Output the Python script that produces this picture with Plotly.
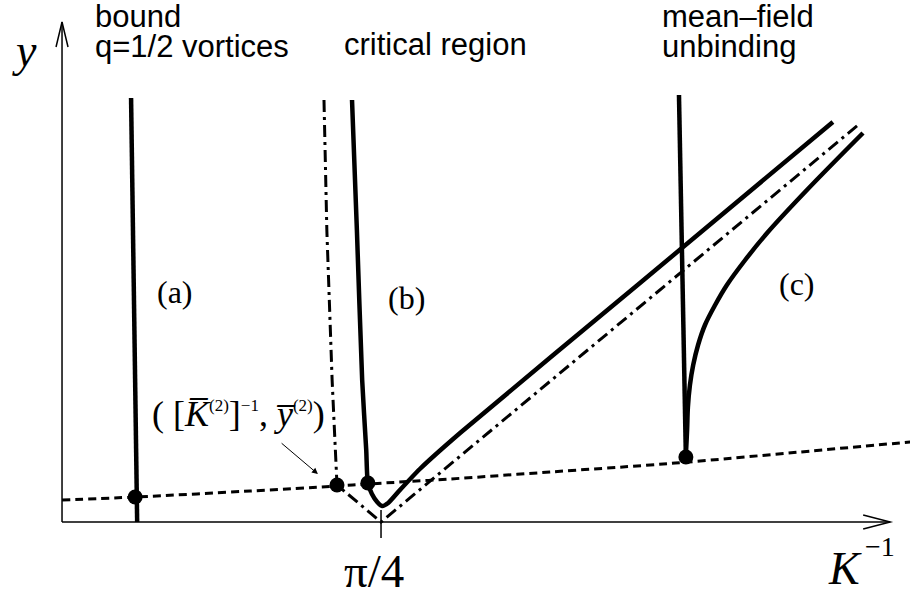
import math
import plotly.graph_objects as go

# ---- schematic flow curves in the (K^-1, y) plane ----
PI4 = math.pi / 4

# dotted fixed-point line y*(K^-1)
fixed_x = [0.0, 0.182, 0.463, 0.677, 0.753, 0.955, 1.201, 1.448, 1.571, 1.817, 2.088]
fixed_y = [0.22, 0.25, 0.31, 0.36, 0.38, 0.43, 0.50, 0.57, 0.61, 0.70, 0.80]

# separatrix (dash-dot)
sep_x = [0.645, 0.652, 0.665, 0.677, PI4, 1.960]
sep_y = [4.22, 2.92, 1.42, 0.37, 0.0, 3.97]

# trajectory (a)
a_x = [0.170, 0.176, 0.182, 0.185]
a_y = [4.24, 2.50, 0.25, 0.0]

# trajectory (b)
b_x = [0.714, 0.726, 0.739, 0.749, 0.753, 0.763, 0.776, 0.788, 0.803, 0.832, 0.881, 0.980, 1.423, 1.898]
b_y = [4.22, 2.92, 1.42, 0.72, 0.39, 0.28, 0.20, 0.16, 0.19, 0.32, 0.53, 0.89, 2.39, 4.00]

# trajectory (c): incoming branch and outgoing branch
c_in_x = [1.519, 1.536]
c_in_y = [4.27, 0.65]
c_out_x = [1.536, 1.539, 1.541, 1.546, 1.554, 1.566, 1.583, 1.608, 1.637, 1.682, 1.736, 1.834, 1.972]
c_out_y = [0.67, 0.92, 1.15, 1.37, 1.57, 1.77, 1.97, 2.17, 2.37, 2.62, 2.89, 3.32, 3.89]

# fixed points marked on the dotted line
dot_x = [0.180, 0.677, 0.753, 1.536]
dot_y = [0.25, 0.37, 0.39, 0.65]

X_RANGE = [-0.1527, 2.0878]
Y_RANGE = [-0.74, 5.22]
X_END = 2.039
Y_END = 5.00

BLACK = "black"
THICK = 4.5

fig = go.Figure()

fig.add_trace(go.Scatter(x=fixed_x, y=fixed_y, mode="lines",
                         line=dict(color=BLACK, width=3, dash="8px,5px", shape="spline")))
fig.add_trace(go.Scatter(x=sep_x, y=sep_y, mode="lines",
                         line=dict(color=BLACK, width=3, dash="12px,5px,3px,5px")))
fig.add_trace(go.Scatter(x=a_x, y=a_y, mode="lines",
                         line=dict(color=BLACK, width=THICK)))
fig.add_trace(go.Scatter(x=b_x, y=b_y, mode="lines",
                         line=dict(color=BLACK, width=THICK, shape="spline", smoothing=0.6)))
fig.add_trace(go.Scatter(x=c_in_x, y=c_in_y, mode="lines",
                         line=dict(color=BLACK, width=THICK)))
fig.add_trace(go.Scatter(x=c_out_x, y=c_out_y, mode="lines",
                         line=dict(color=BLACK, width=THICK, shape="spline", smoothing=1)))
fig.add_trace(go.Scatter(x=dot_x, y=dot_y, mode="markers",
                         marker=dict(color=BLACK, size=15)))

# axes with open arrowheads
axis_line = dict(color=BLACK, width=1.5)
fig.add_shape(type="line", x0=0, y0=0, x1=X_END, y1=0, line=axis_line)
fig.add_shape(type="line", x0=0, y0=0, x1=0, y1=Y_END, line=axis_line)
fig.add_shape(type="path", xsizemode="pixel", ysizemode="pixel",
              xanchor=X_END, yanchor=0, path="M -27 7 L 0 0 L -27 -7", line=axis_line)
fig.add_shape(type="path", xsizemode="pixel", ysizemode="pixel",
              xanchor=0, yanchor=Y_END, path="M -6 -25 L 0 0 L 6 -25", line=axis_line)
# tick at pi/4
fig.add_shape(type="line", x0=PI4, y0=0.12, x1=PI4, y1=-0.16, line=axis_line)

SANS = "Liberation Sans, Arial, sans-serif"
SERIF = "Liberation Serif, Times New Roman, serif"


def label(text, px, py, size, family, xanchor="left"):
    fig.add_annotation(text=text, xref="paper", yref="paper",
                       x=px / 910, y=1 - py / 596, xanchor=xanchor, yanchor="middle",
                       showarrow=False, font=dict(family=family, size=size, color=BLACK))


label("bound", 93, 17, 31, SANS)
label("q=1/2 vortices", 93, 46, 31, SANS)
label("critical region", 342, 44, 31, SANS)
label("mean–field", 660, 17, 31, SANS)
label("unbinding", 660, 46, 31, SANS)

label("(a)", 175, 292, 32, SERIF, "center")
label("(b)", 406, 298, 32, SERIF, "center")
label("(c)", 797, 284, 32, SERIF, "center")

label("<i>y</i>", 24, 50, 46, SERIF, "center")
label("π/4", 374, 571, 47, SERIF, "center")
label("<i>K</i>", 845, 568, 46, SERIF, "center")
label("−1", 880, 546, 28, SERIF, "center")

# fixed-point coordinates with small superscript indices
SUP = '<sup><span style="font-size:17px">{}</span></sup>'
label("( [<i>K̅</i>" + SUP.format("(2)") + "]" + SUP.format("−1") + ", <i>y̅</i>"
      + SUP.format("(2)") + ")", 150, 414, 36, SERIF)

# pointer to the separatrix fixed point
fig.add_annotation(x=0.630, y=0.48, ax=0.537, ay=0.80, xref="x", yref="y",
                   axref="x", ayref="y", text="", showarrow=True,
                   arrowhead=2, arrowsize=1.2, arrowwidth=1, arrowcolor=BLACK)

fig.update_layout(
    width=910, height=596, margin=dict(l=0, r=0, t=0, b=0),
    paper_bgcolor="white", plot_bgcolor="white", showlegend=False,
    xaxis=dict(range=X_RANGE, visible=False, fixedrange=True),
    yaxis=dict(range=Y_RANGE, visible=False, fixedrange=True),
)

fig.write_html("out.html")
